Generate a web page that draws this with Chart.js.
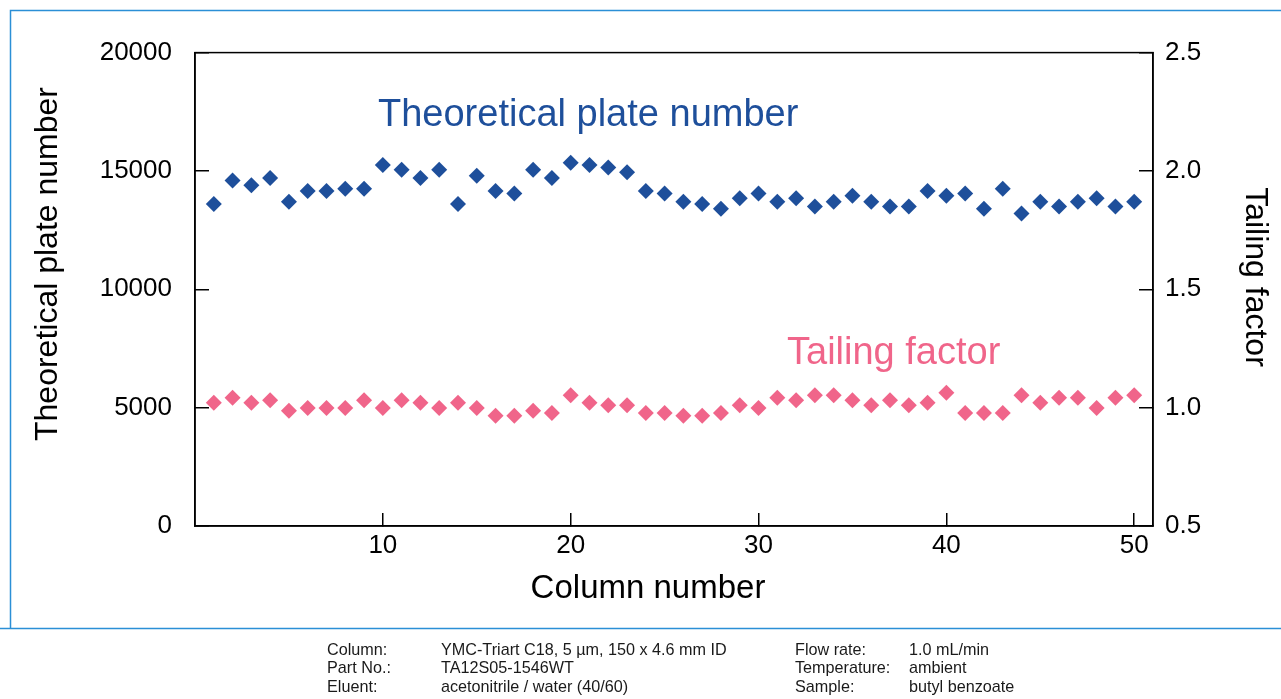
<!DOCTYPE html>
<html>
<head>
<meta charset="utf-8">
<script src="https://cdn.jsdelivr.net/npm/chart.js@4"></script>
<style>
  html, body { margin: 0; padding: 0; background: #fff; }
  #wrap { position: relative; width: 1281px; height: 699px; }
  #notes {
    position: absolute; left: 0; top: 640px;
    font-family: "Liberation Sans", Arial, sans-serif;
    font-size: 16.2px; line-height: 18.3px; color: #1a1a1a;
  }
  #notes div { position: absolute; white-space: nowrap; }
</style>
</head>
<body>
<div id="wrap">
  <canvas id="chart"></canvas>
  <div id="notes">
    <div style="left:327px">Column:<br>Part No.:<br>Eluent:</div>
    <div style="left:441px">YMC-Triart C18, 5 µm, 150 x 4.6 mm ID<br>TA12S05-1546WT<br>acetonitrile / water (40/60)</div>
    <div style="left:795px">Flow rate:<br>Temperature:<br>Sample:</div>
    <div style="left:909px">1.0 mL/min<br>ambient<br>butyl benzoate</div>
  </div>
</div>
<script>
// Column numbers (x)
const columns = [1, 2, 3, 4, 5, 6, 7, 8, 9, 10, 11, 12, 13, 14, 15, 16, 17, 18, 19, 20,
  21, 22, 23, 24, 25, 26, 27, 28, 29, 30, 31, 32, 33, 34, 35, 36, 37, 38, 39, 40,
  41, 42, 43, 44, 45, 46, 47, 48, 49, 50];

// Theoretical plate number (left axis)
const plateNumber = [13600, 14600, 14400, 14700, 13700, 14150, 14150, 14250, 14250, 15250,
  15050, 14700, 15050, 13600, 14800, 14150, 14050, 15050, 14700, 15350,
  15250, 15150, 14950, 14150, 14050, 13700, 13600, 13400, 13850, 14050,
  13700, 13850, 13500, 13700, 13950, 13700, 13500, 13500, 14150, 13950,
  14050, 13400, 14250, 13200, 13700, 13500, 13700, 13850, 13500, 13700];

// Tailing factor (right axis)
const tailingFactor = [1.021, 1.042, 1.021, 1.031, 0.987, 0.998, 0.998, 0.998, 1.031, 0.998,
  1.031, 1.021, 0.998, 1.021, 0.998, 0.966, 0.966, 0.987, 0.977, 1.052,
  1.021, 1.010, 1.010, 0.977, 0.977, 0.966, 0.966, 0.977, 1.010, 0.998,
  1.042, 1.031, 1.052, 1.052, 1.031, 1.010, 1.031, 1.010, 1.021, 1.063,
  0.977, 0.977, 0.977, 1.052, 1.021, 1.042, 1.042, 0.998, 1.042, 1.052];

const seriesNames = ['Theoretical plate number', 'Tailing factor'];
const axisTitles = { x: 'Column number', y: 'Theoretical plate number', y1: 'Tailing factor' };

const BLUE = '#1e4f9b';
const PINK = '#f0658a';
const FONT = '"Liberation Sans", Arial, sans-serif';

const decorations = {
  id: 'decorations',
  beforeDraw(chart) {
    const c = chart.ctx;
    c.save();
    c.strokeStyle = '#2b8fd6';
    c.lineWidth = 1.5;
    c.beginPath();
    c.moveTo(10.5, 628);
    c.lineTo(10.5, 10.5);
    c.lineTo(1281, 10.5);
    c.moveTo(0, 628.5);
    c.lineTo(1281, 628.5);
    c.stroke();
    c.restore();
  },
  afterDraw(chart) {
    const c = chart.ctx;
    const a = chart.chartArea;
    c.save();
    c.strokeStyle = '#000';
    c.lineWidth = 1.5;
    c.strokeRect(a.left, a.top, a.right - a.left, a.bottom - a.top);

    c.fillStyle = '#000';
    c.textAlign = 'center';
    c.textBaseline = 'alphabetic';
    c.font = '32px ' + FONT;
    c.save();
    c.translate(57, 264);
    c.rotate(-Math.PI / 2);
    c.fillText(axisTitles.y, 0, 0);
    c.restore();
    c.save();
    c.translate(1246, 277);
    c.rotate(Math.PI / 2);
    c.fillText(axisTitles.y1, 0, 0);
    c.restore();
    c.font = '33px ' + FONT;
    c.fillText(axisTitles.x, 648, 598);

    // series labels
    c.textAlign = 'left';
    c.font = '38px ' + FONT;
    c.fillStyle = BLUE;
    c.fillText(seriesNames[0], 378, 126);
    c.fillStyle = PINK;
    c.fillText(seriesNames[1], 787, 364);
    c.restore();
  }
};

const chart = new Chart(document.getElementById('chart'), {
  type: 'scatter',
  data: {
    datasets: [{
      label: seriesNames[0],
      data: columns.map((x, i) => ({ x: x, y: plateNumber[i] })),
      yAxisID: 'y',
      backgroundColor: BLUE,
      borderWidth: 0,
      pointStyle: 'rectRot',
      pointRadius: 8,
      pointHoverRadius: 8
    }, {
      label: seriesNames[1],
      data: columns.map((x, i) => ({ x: x, y: tailingFactor[i] })),
      yAxisID: 'y1',
      backgroundColor: PINK,
      borderWidth: 0,
      pointStyle: 'rectRot',
      pointRadius: 8,
      pointHoverRadius: 8
    }]
  },
  options: {
    responsive: true,
    maintainAspectRatio: false,
    animation: false,
    layout: { padding: { top: 52, left: 0, right: 0, bottom: 0 } },
    plugins: {
      legend: { display: false },
      tooltip: { enabled: false }
    },
    scales: {
      x: {
        type: 'linear',
        min: 0,
        max: 51,
        afterFit: s => { s.height = 173; },
        afterBuildTicks: s => { s.ticks = s.ticks.filter(t => t.value > 0 && t.value <= 50 && t.value % 10 === 0); },
        grid: { drawOnChartArea: false, drawTicks: true, tickLength: -13, color: '#000', lineWidth: 1.5 },
        border: { display: true, color: '#000', width: 1.5 },
        ticks: {
          stepSize: 10,
          includeBounds: false,
          padding: 17,
          color: '#000',
          font: { family: FONT, size: 26 },
          callback: v => String(v)
        }
      },
      y: {
        position: 'left',
        min: 0,
        max: 20000,
        afterFit: s => { s.width = 195; },
        grid: { drawOnChartArea: false, drawTicks: true, tickLength: -14, color: '#000', lineWidth: 1.5 },
        border: { display: true, color: '#000', width: 1.5 },
        ticks: {
          stepSize: 5000,
          padding: 37,
          color: '#000',
          font: { family: FONT, size: 26 },
          callback: v => String(v)
        }
      },
      y1: {
        position: 'right',
        min: 0.5,
        max: 2.5,
        afterFit: s => { s.width = 128; },
        grid: { drawOnChartArea: false, drawTicks: true, tickLength: -14, color: '#000', lineWidth: 1.5 },
        border: { display: true, color: '#000', width: 1.5 },
        ticks: {
          stepSize: 0.5,
          padding: 26,
          color: '#000',
          font: { family: FONT, size: 26 },
          callback: v => v.toFixed(1)
        }
      }
    }
  },
  plugins: [decorations]
});
</script>
</body>
</html>
